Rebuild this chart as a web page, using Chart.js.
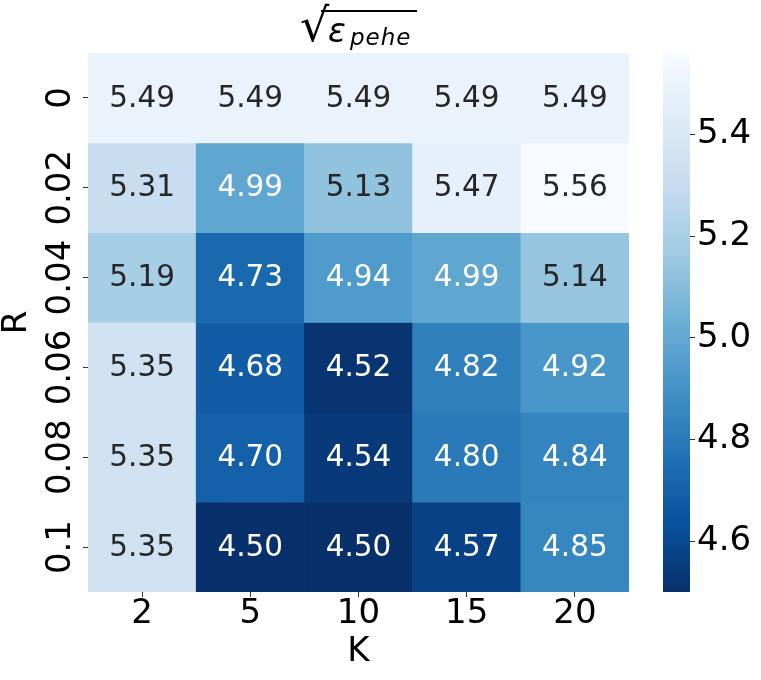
<!DOCTYPE html>
<html>
<head>
<meta charset="utf-8">
<script src="https://cdn.jsdelivr.net/npm/chart.js@4"></script>
<style>
  body { margin: 0; background: #fff; }
  #wrap { position: relative; width: 761px; height: 680px; font-family: 'DejaVu Sans', sans-serif; }
  #wrap canvas { position: absolute; left: 0; top: 0; }
  .t { position: absolute; line-height: 1; color: #000; white-space: nowrap; }
</style>
</head>
<body>
<div id="wrap">
  <canvas id="heat" width="761" height="680"></canvas>
  <canvas id="cbar" width="761" height="680"></canvas>
  <!-- title: sqrt(eps_pehe) -->
  <span class="t" style="left:300px; top:2px; font-size:46px;">√</span>
  <span class="t" style="left:321px; top:10px; width:96px; height:0; border-top:2px solid #000;"></span>
  <span class="t" style="left:328px; top:14px; font-size:33px; font-style:italic;">ε</span>
  <span class="t" style="left:350px; top:26px; font-size:23px; font-style:italic; letter-spacing:1px;">pehe</span>
</div>
<script>
// data
const kLabels = ['2', '5', '10', '15', '20'];
const rLabels = ['0', '0.02', '0.04', '0.06', '0.08', '0.1'];
const rowR0   = [5.49, 5.49, 5.49, 5.49, 5.49];
const rowR002 = [5.31, 4.99, 5.13, 5.47, 5.56];
const rowR004 = [5.19, 4.73, 4.94, 4.99, 5.14];
const rowR006 = [5.35, 4.68, 4.52, 4.82, 4.92];
const rowR008 = [5.35, 4.70, 4.54, 4.80, 4.84];
const rowR01  = [5.35, 4.50, 4.50, 4.57, 4.85];
const cbTicks = [4.6, 4.8, 5.0, 5.2, 5.4];

const rows = [rowR0, rowR002, rowR004, rowR006, rowR008, rowR01];
const allVals = rows.flat();
const vmin = Math.min(...allVals);
const vmax = Math.max(...allVals);

// matplotlib Blues, used reversed
const blues = [
  [247, 251, 255], [222, 235, 247], [198, 219, 239], [158, 202, 225], [107, 174, 214],
  [66, 146, 198], [33, 113, 181], [8, 81, 156], [8, 48, 107]
];
function bluesAt(t) {
  t = Math.max(0, Math.min(1, t));
  const p = t * (blues.length - 1);
  const i = Math.min(Math.floor(p), blues.length - 2);
  const f = p - i;
  return blues[i].map((c, j) => c + (blues[i + 1][j] - c) * f);
}
function rgbFor(v) {
  // Blues_r: low value -> dark
  return bluesAt(1 - (v - vmin) / (vmax - vmin));
}
function cssFor(v) {
  const c = rgbFor(v);
  return 'rgb(' + c.map(Math.round).join(',') + ')';
}
function textColorFor(v) {
  const lin = rgbFor(v).map(c => {
    c = c / 255;
    return c <= 0.03928 ? c / 12.92 : Math.pow((c + 0.055) / 1.055, 2.4);
  });
  const lum = 0.2126 * lin[0] + 0.7152 * lin[1] + 0.0722 * lin[2];
  return lum > 0.408 ? '#262626' : '#ffffff';
}

const FONT = 'DejaVu Sans';

// value labels in each cell
const annotate = {
  id: 'annotate',
  afterDatasetsDraw(chart) {
    const ctx = chart.ctx;
    ctx.save();
    ctx.font = '29.5px "' + FONT + '"';
    ctx.textAlign = 'center';
    ctx.textBaseline = 'middle';
    chart.data.datasets.forEach((ds, r) => {
      chart.getDatasetMeta(r).data.forEach((el, c) => {
        const v = rows[r][c];
        const p = el.getCenterPoint();
        ctx.fillStyle = textColorFor(v);
        ctx.fillText(v.toFixed(2), p.x, p.y + 1);
      });
    });
    ctx.restore();
  }
};

// rotated R tick labels
const yLabels = {
  id: 'yLabels',
  afterDraw(chart) {
    const ctx = chart.ctx;
    const ys = chart.scales.y;
    ctx.save();
    ctx.font = '34px "' + FONT + '"';
    ctx.fillStyle = '#000';
    ctx.textAlign = 'center';
    ctx.textBaseline = 'middle';
    rLabels.forEach((lab, i) => {
      const y = ys.getPixelForValue(i + 0.5);
      ctx.save();
      ctx.translate(61, y);
      ctx.rotate(-Math.PI / 2);
      ctx.fillText(lab, 0, 0);
      ctx.restore();
    });
    ctx.restore();
  }
};

new Chart(document.getElementById('heat'), {
  type: 'bar',
  data: {
    labels: kLabels,
    datasets: rows.map((row, r) => ({
      data: row.map(() => [r, r + 1]),
      backgroundColor: row.map(cssFor),
      borderWidth: 0,
      barPercentage: 1,
      categoryPercentage: 1
    }))
  },
  options: {
    responsive: false,
    animation: false,
    layout: { padding: { left: 0, top: 53, right: 132, bottom: 11 } },
    plugins: { legend: { display: false }, tooltip: { enabled: false } },
    scales: {
      x: {
        stacked: true,
        offset: true,
        grid: { offset: false, drawOnChartArea: false, tickLength: 5, color: '#333' },
        border: { display: false },
        ticks: { color: '#000', padding: 0, font: { family: FONT, size: 34, lineHeight: 1 } },
        title: { display: true, text: 'K', color: '#000', padding: 0, font: { family: FONT, size: 34, lineHeight: 1 } },
        afterFit: s => { s.height = 77; }
      },
      y: {
        type: 'linear',
        stacked: false,
        min: 0,
        max: rows.length,
        reverse: true,
        afterBuildTicks: s => { s.ticks = rLabels.map((_, i) => ({ value: i + 0.5 })); },
        grid: { drawOnChartArea: false, tickLength: 5, color: '#333' },
        border: { display: false },
        ticks: { display: false },
        title: { display: true, text: 'R', color: '#000', padding: 0, font: { family: FONT, size: 34, lineHeight: 1 } },
        afterFit: s => { s.width = 88; }
      }
    }
  },
  plugins: [annotate, yLabels]
});

// colorbar
new Chart(document.getElementById('cbar'), {
  type: 'bar',
  data: {
    labels: [''],
    datasets: [{
      data: [[vmin, vmax]],
      borderWidth: 0,
      barPercentage: 1,
      categoryPercentage: 1,
      backgroundColor: (c) => {
        const chart = c.chart;
        if (!chart.chartArea) return '#08306b';
        const ys = chart.scales.y;
        const g = chart.ctx.createLinearGradient(0, ys.getPixelForValue(vmin), 0, ys.getPixelForValue(vmax));
        blues.forEach((col, i) => {
          const t = i / (blues.length - 1);
          g.addColorStop(1 - t, 'rgb(' + col.join(',') + ')');
        });
        return g;
      }
    }]
  },
  options: {
    responsive: false,
    animation: false,
    layout: { padding: { left: 663, top: 53, right: 0, bottom: 88 } },
    plugins: { legend: { display: false }, tooltip: { enabled: false } },
    scales: {
      x: { display: false },
      y: {
        position: 'right',
        min: vmin,
        max: vmax,
        afterBuildTicks: s => { s.ticks = cbTicks.map(v => ({ value: v })); },
        grid: { drawOnChartArea: false, tickLength: 5, color: '#333' },
        border: { display: false },
        ticks: { color: '#000', padding: 2, font: { family: FONT, size: 34, lineHeight: 1 }, callback: v => v.toFixed(1) },
        afterFit: s => { s.width = 71; }
      }
    }
  }
});
</script>
</body>
</html>
